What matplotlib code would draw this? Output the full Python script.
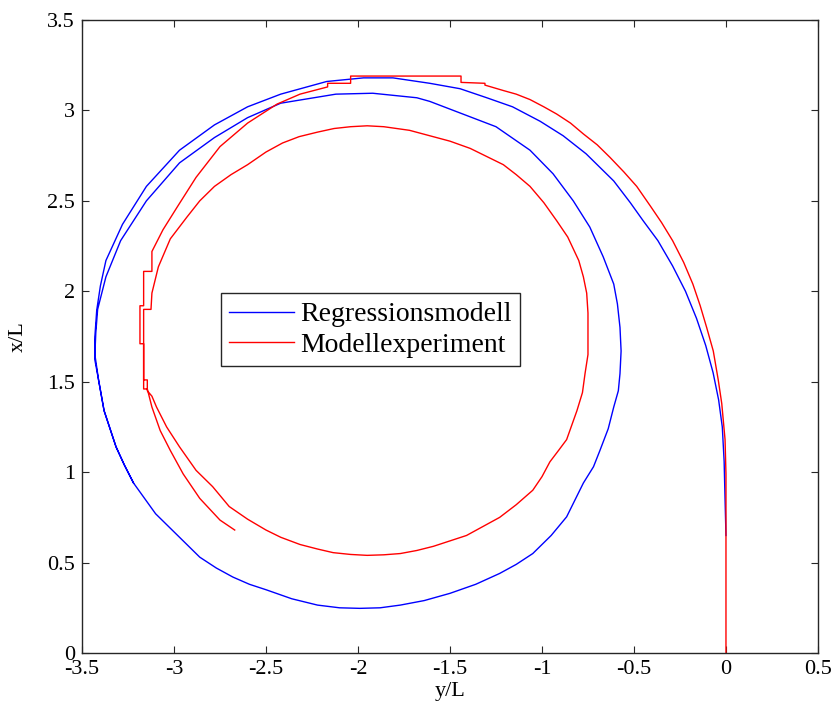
'''
    turning circle: regression model vs. model experiment
'''
from matplotlib import pyplot as plt

# horizontal axis y/L, vertical axis x/L
reg_y = [0.0, -0.005, -0.01, -0.02, -0.04, -0.07, -0.11, -0.16, -0.22, -0.29,
         -0.37, -0.45, -0.52, -0.61, -0.76, -0.885, -1.01, -1.16, -1.30, -1.445,
         -1.61, -1.81, -1.97, -2.17, -2.42, -2.60, -2.78, -2.97, -3.15, -3.28,
         -3.37, -3.40, -3.42, -3.43, -3.43, -3.41, -3.38, -3.315, -3.27, -3.22,
         -3.10, -2.97, -2.86, -2.77, -2.68, -2.59, -2.50, -2.36, -2.22, -2.10,
         -1.99, -1.88, -1.77, -1.64, -1.50, -1.36, -1.23, -1.14, -1.05, -0.95,
         -0.866, -0.775, -0.72, -0.685, -0.64, -0.61, -0.585, -0.576, -0.57, -0.576,
         -0.59, -0.61, -0.667, -0.74, -0.83, -0.94, -1.065, -1.25, -1.43, -1.61,
         -1.68, -1.92, -2.12, -2.42, -2.60, -2.78, -2.97, -3.15, -3.29, -3.37,
         -3.415, -3.425, -3.43, -3.41, -3.38, -3.315, -3.27, -3.22]
reg_x = [0.65, 0.85, 1.06, 1.25, 1.40, 1.55, 1.70, 1.85, 2.00, 2.14,
         2.28, 2.39, 2.49, 2.61, 2.76, 2.86, 2.94, 3.02, 3.07, 3.12,
         3.15, 3.18, 3.18, 3.16, 3.09, 3.02, 2.92, 2.78, 2.58, 2.37,
         2.17, 2.03, 1.895, 1.75, 1.62, 1.51, 1.34, 1.14, 1.04, 0.94,
         0.77, 0.64, 0.53, 0.47, 0.42, 0.38, 0.35, 0.30, 0.265, 0.25,
         0.247, 0.25, 0.265, 0.29, 0.33, 0.38, 0.44, 0.49, 0.55, 0.65,
         0.753, 0.94, 1.03, 1.12, 1.24, 1.36, 1.45, 1.545, 1.67, 1.80,
         1.93, 2.04, 2.19, 2.355, 2.50, 2.65, 2.78, 2.91, 2.98, 3.05,
         3.07, 3.095, 3.09, 3.04, 2.96, 2.85, 2.71, 2.50, 2.28, 2.08,
         1.90, 1.77, 1.65, 1.51, 1.34, 1.14, 1.04, 0.94]

exp_y = [0.0, 0.0, -0.005, -0.023, -0.042, -0.069, -0.105, -0.14, -0.18, -0.23,
         -0.29, -0.35, -0.41, -0.485, -0.555, -0.63, -0.70, -0.775, -0.845, -0.92,
         -0.99, -1.065, -1.14, -1.21, -1.31, -1.31, -1.44, -1.44, -2.04, -2.04,
         -2.165, -2.165, -2.315, -2.44, -2.60, -2.75, -2.88, -2.98, -3.06, -3.12,
         -3.12, -3.165, -3.165, -3.185, -3.185, -3.165, -3.165, -3.145, -3.145, -3.12,
         -3.095, -3.04, -2.97, -2.88, -2.79, -2.70, -2.60, -2.50, -2.42, -2.315,
         -2.22, -2.135, -2.04, -1.95, -1.86, -1.77, -1.68, -1.59, -1.50, -1.41,
         -1.32, -1.23, -1.14, -1.05, -1.0, -0.957, -0.91, -0.866, -0.81, -0.78,
         -0.766, -0.75, -0.75, -0.757, -0.775, -0.80, -0.86, -0.92, -0.99, -1.065,
         -1.14, -1.21, -1.39, -1.50, -1.61, -1.72, -1.86, -1.95, -2.04, -2.13,
         -2.22, -2.32, -2.41, -2.50, -2.60, -2.69, -2.78, -2.86, -2.93, -3.02,
         -3.085, -3.12, -3.125, -3.165, -3.165, -3.145, -3.12, -3.075, -3.02, -2.95,
         -2.86, -2.75, -2.67]
exp_x = [0.0, 0.99, 1.18, 1.38, 1.51, 1.67, 1.80, 1.92, 2.04, 2.16,
         2.28, 2.38, 2.47, 2.58, 2.66, 2.74, 2.81, 2.87, 2.93, 2.98,
         3.02, 3.06, 3.09, 3.11, 3.14, 3.15, 3.155, 3.19, 3.19, 3.15,
         3.15, 3.13, 3.09, 3.035, 2.93, 2.80, 2.63, 2.47, 2.34, 2.22,
         2.11, 2.11, 1.92, 1.92, 1.71, 1.71, 1.51, 1.51, 1.45, 1.42,
         1.36, 1.25, 1.14, 1.01, 0.92, 0.81, 0.74, 0.68, 0.64, 0.60,
         0.575, 0.555, 0.545, 0.54, 0.543, 0.55, 0.567, 0.59, 0.62, 0.65,
         0.70, 0.75, 0.82, 0.90, 0.975, 1.057, 1.12, 1.18, 1.34, 1.44,
         1.545, 1.65, 1.88, 1.99, 2.08, 2.17, 2.30, 2.39, 2.49, 2.58,
         2.645, 2.70, 2.79, 2.83, 2.86, 2.89, 2.91, 2.915, 2.91, 2.90,
         2.88, 2.855, 2.82, 2.77, 2.70, 2.645, 2.58, 2.50, 2.41, 2.29,
         2.135, 1.99, 1.90, 1.90, 1.46, 1.46, 1.36, 1.23, 1.12, 0.99,
         0.855, 0.735, 0.68]

labels = ['Regressionsmodell', 'Modellexperiment']
x_ticks = [-3.5, -3, -2.5, -2, -1.5, -1, -0.5, 0, 0.5]
y_ticks = [0, 0.5, 1, 1.5, 2, 2.5, 3, 3.5]

plt.rcParams['font.family'] = ['Liberation Serif', 'DejaVu Serif']

fig = plt.figure(figsize=(8.35, 7.14), dpi=100)
ax = fig.add_axes([0.0982, 0.0854, 0.8814, 0.8866])
ax.plot(reg_y, reg_x, color='#0000ff', lw=1.0, label=labels[0])
ax.plot(exp_y, exp_x, color='#ff0000', lw=1.0, label=labels[1])

ax.set_xlim(-3.5, 0.5)
ax.set_ylim(0, 3.5)
ax.set_xticks(x_ticks)
ax.set_yticks(y_ticks)
ax.set_xticklabels(['%g' % t for t in x_ticks])
ax.set_yticklabels(['%g' % t for t in y_ticks])
ax.tick_params(direction='in', length=5, width=0.8, top=True, right=True,
               labelsize=16, pad=5, color='#262626')
for s in ax.spines.values():
    s.set_linewidth(1.0)
    s.set_color('#262626')

ax.set_xlabel('y/L', fontsize=16, labelpad=2)
ax.set_ylabel('x/L', fontsize=16, labelpad=14)

leg = ax.legend(loc='upper left', bbox_to_anchor=(0.1885, 0.568), borderaxespad=0,
                fontsize=20, handlelength=2.35, handletextpad=0.2, borderpad=0.3,
                labelspacing=0.18, fancybox=False, framealpha=1)
leg.get_frame().set_edgecolor('#262626')
leg.get_frame().set_linewidth(1.0)

plt.savefig('out.png', dpi=100)
